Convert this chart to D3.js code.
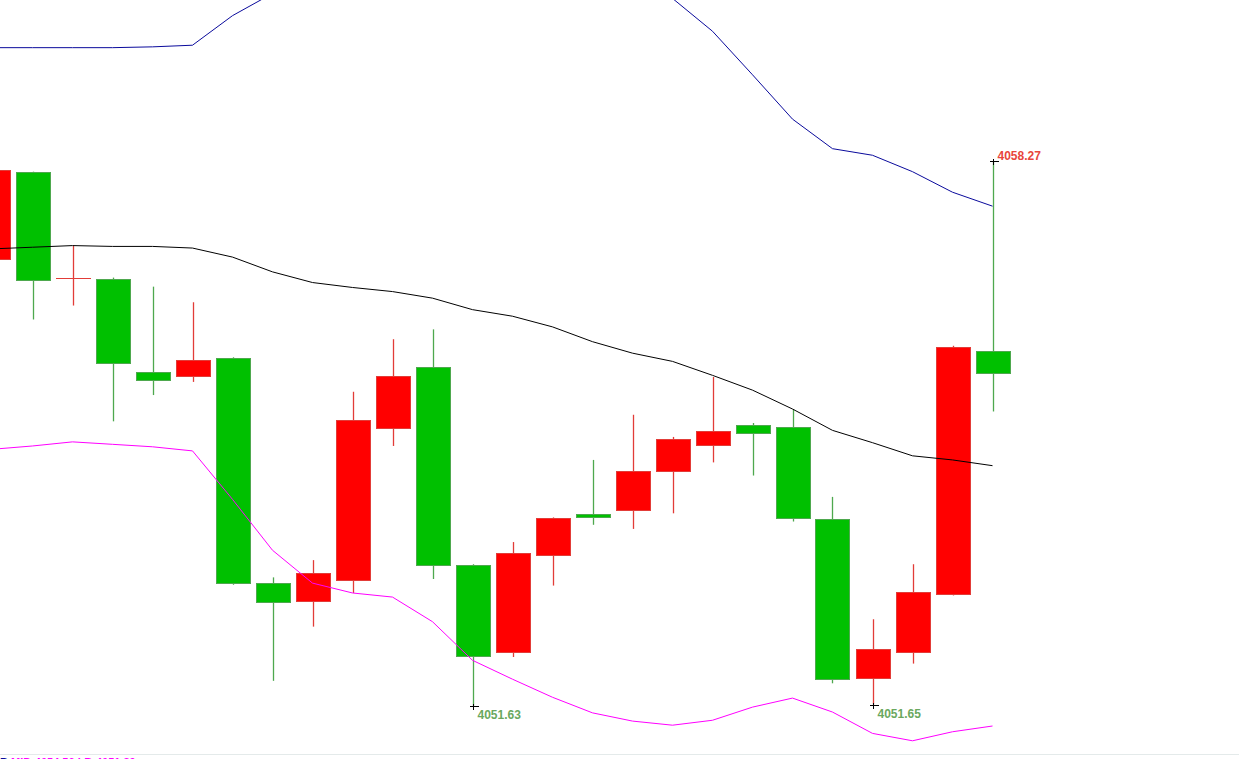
<!DOCTYPE html>
<html lang="en">
<head>
  <meta charset="UTF-8" />
  <title>Candles with Bollinger bands</title>
  <script src="https://d3js.org/d3.v7.min.js"></script>
  <style>
    body {
      margin: 0;
      padding: 0;
      background: white;
      overflow: hidden;
      font-family: "Liberation Sans", Arial, sans-serif;
    }
    #chart {
      display: block;
    }
  </style>
</head>
<body>
  <svg id="chart" width="1239" height="759"></svg>

  <script>
    // candle values (first one is cut by the left edge)
    const opens  = [4057.07, 4058.13, 4056.84, 4056.83, 4055.70, 4055.64, 4055.86, 4053.12, 4052.91, 4053.16,
                    4055.01, 4055.76, 4053.35, 4052.28, 4053.47, 4053.97, 4054.02, 4054.49, 4054.80, 4055.05,
                    4055.03, 4053.90, 4051.97, 4052.28, 4052.99, 4055.95];
    const highs  = [4058.22, 4058.14, 4057.24, 4056.85, 4056.74, 4056.55, 4055.88, 4053.20, 4053.41, 4055.46,
                    4056.10, 4056.22, 4053.36, 4053.63, 4053.93, 4054.63, 4055.18, 4054.91, 4055.64, 4055.08,
                    4055.25, 4054.18, 4052.69, 4053.36, 4056.02, 4058.27];
    const lows   = [4057.04, 4056.34, 4056.51, 4055.10, 4055.42, 4055.58, 4053.11, 4051.94, 4052.60, 4053.01,
                    4054.80, 4053.18, 4051.63, 4052.23, 4053.10, 4053.84, 4053.79, 4053.98, 4054.60, 4054.44,
                    4053.88, 4051.91, 4051.65, 4052.15, 4052.98, 4055.22];
    const closes = [4058.16, 4056.81, 4056.84, 4055.81, 4055.60, 4055.84, 4053.12, 4052.90, 4053.25, 4055.11,
                    4055.65, 4053.35, 4052.24, 4053.49, 4053.92, 4053.93, 4054.49, 4054.88, 4054.98, 4054.95,
                    4053.92, 4051.96, 4052.32, 4053.02, 4056.00, 4055.68];

    // bollinger lines
    const bollUpper = [4059.65, 4059.65, 4059.65, 4059.65, 4059.66, 4059.68, 4060.04, 4060.31, 4060.45, 4060.44,
                       4060.39, 4060.54, 4060.73, 4060.80, 4060.74, 4060.60, 4060.40, 4060.25, 4059.85, 4059.32,
                       4058.78, 4058.42, 4058.34, 4058.14, 4057.89, 4057.72];
    const bollMid   = [4057.20, 4057.22, 4057.24, 4057.23, 4057.23, 4057.21, 4057.10, 4056.92, 4056.79, 4056.73,
                       4056.68, 4056.60, 4056.46, 4056.38, 4056.25, 4056.07, 4055.93, 4055.83, 4055.66, 4055.48,
                       4055.25, 4054.99, 4054.84, 4054.68, 4054.63, 4054.56];
    const bollLower = [4054.76, 4054.80, 4054.85, 4054.82, 4054.79, 4054.74, 4054.15, 4053.53, 4053.13, 4053.01,
                       4052.96, 4052.66, 4052.19, 4051.96, 4051.74, 4051.55, 4051.45, 4051.40, 4051.46, 4051.62,
                       4051.73, 4051.56, 4051.30, 4051.21, 4051.32, 4051.39];

    // which candles get a price tag
    const highMarks = [25];
    const lowMarks  = [12, 22];

    const W = 1239, H = 759;
    const upColor = "#ff0000", upLine = "#e23c38";
    const downColor = "#00c000", downLine = "#4ea84e";

    const candles = opens.map((o, i) => ({
      i: i, open: o, high: highs[i], low: lows[i], close: closes[i]
    }));

    const svg = d3.select("#chart");

    const x = d3.scaleLinear().domain([0, candles.length - 1]).range([-7.5, 992.5]);
    const y = d3.scaleLinear().domain([4051.63, 4058.27]).range([706.3, 161]);
    const bodyW = 34;

    const plot = svg.append("g");
    plot.append("clipPath").attr("id", "clip")
      .append("rect").attr("x", 0).attr("y", 0).attr("width", W).attr("height", 754);
    const g = plot.append("g").attr("clip-path", "url(#clip)");

    const isUp = d => d.close >= d.open;

    // wicks
    g.selectAll("line.wick")
      .data(candles)
      .enter()
      .append("line")
      .attr("class", "wick")
      .attr("x1", d => Math.round(x(d.i)) + 0.5)
      .attr("x2", d => Math.round(x(d.i)) + 0.5)
      .attr("y1", d => y(d.high))
      .attr("y2", d => y(d.low))
      .attr("stroke", d => isUp(d) ? upLine : downLine)
      .attr("stroke-width", 1.3);

    // bodies
    g.selectAll("rect.body")
      .data(candles)
      .enter()
      .append("rect")
      .attr("class", "body")
      .attr("x", d => Math.round(x(d.i)) - bodyW / 2 + 0.5)
      .attr("width", bodyW)
      .attr("y", d => y(Math.max(d.open, d.close)))
      .attr("height", d => Math.max(Math.abs(y(d.open) - y(d.close)), 0.5))
      .attr("fill", d => isUp(d) ? upColor : downColor)
      .attr("stroke", d => isUp(d) ? upLine : downLine)
      .attr("stroke-width", 1)
      .attr("shape-rendering", "crispEdges");

    // bollinger lines on top of the candles
    const bandLine = arr => d3.line()
      .x((d, i) => x(i))
      .y(d => y(d))(arr);

    g.append("path").attr("d", bandLine(bollUpper))
      .attr("fill", "none").attr("stroke", "#0a0a9c").attr("stroke-width", 1);
    g.append("path").attr("d", bandLine(bollMid))
      .attr("fill", "none").attr("stroke", "#000000").attr("stroke-width", 1);
    g.append("path").attr("d", bandLine(bollLower))
      .attr("fill", "none").attr("stroke", "#ff00ff").attr("stroke-width", 1);

    // price tags for extremes
    function crossAt(cx, cy) {
      g.append("line").attr("x1", cx - 4).attr("x2", cx + 5).attr("y1", cy).attr("y2", cy)
        .attr("stroke", "black").attr("shape-rendering", "crispEdges");
      g.append("line").attr("x1", cx).attr("x2", cx).attr("y1", cy - 3).attr("y2", cy + 3)
        .attr("stroke", "black").attr("shape-rendering", "crispEdges");
    }

    highMarks.forEach(i => {
      const cx = Math.round(x(i)) + 0.5, cy = Math.round(y(highs[i])) + 0.5;
      crossAt(cx, cy);
      g.append("text")
        .attr("x", cx + 4)
        .attr("y", cy - 2)
        .text(highs[i].toFixed(2))
        .style("font-size", "12px")
        .style("font-weight", "bold")
        .attr("fill", "#e8453c");
    });

    lowMarks.forEach(i => {
      const cx = Math.round(x(i)) + 0.5, cy = Math.round(y(lows[i])) + 0.5;
      crossAt(cx, cy);
      g.append("text")
        .attr("x", cx + 4)
        .attr("y", cy + 12)
        .text(lows[i].toFixed(2))
        .style("font-size", "12px")
        .style("font-weight", "bold")
        .attr("fill", "#6aa85e");
    });

    // separator and the indicator caption that the window cuts at the very bottom
    svg.append("line")
      .attr("x1", 0).attr("x2", W).attr("y1", 754.5).attr("y2", 754.5)
      .attr("stroke", "#e4eaea");

    const cap = svg.append("text")
      .attr("x", 0).attr("y", 766)
      .style("font-size", "11px")
      .style("font-weight", "bold");
    cap.append("tspan").attr("fill", "#0a0a9c").text("B ");
    cap.append("tspan").attr("fill", "#ff00ff").text("MID:4054.56 LB:4051.39");
  </script>
</body>
</html>
